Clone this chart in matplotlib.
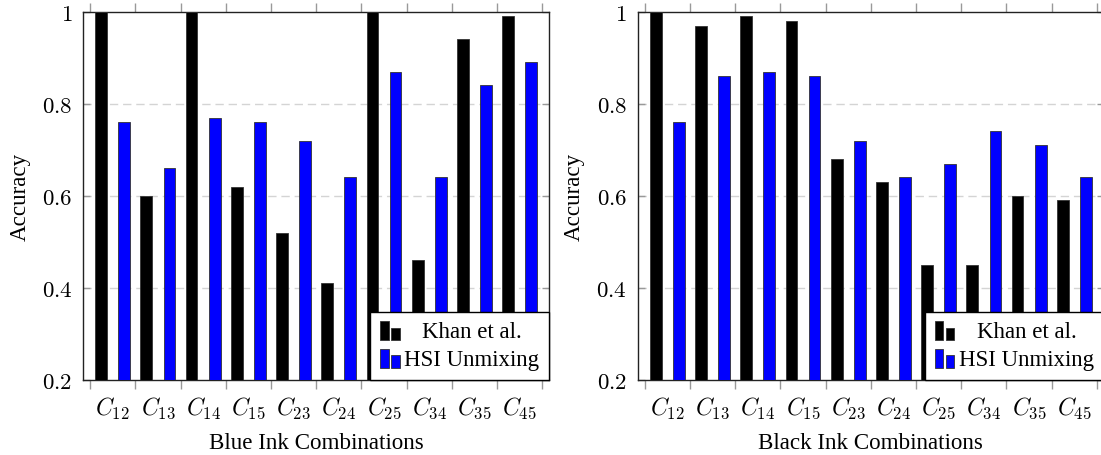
import numpy as np
import matplotlib
matplotlib.use("Agg")
import matplotlib.pyplot as plt
from matplotlib.legend_handler import HandlerBase
from matplotlib.patches import Rectangle

plt.rcParams['font.family'] = ['Liberation Serif', 'DejaVu Serif']
plt.rcParams['mathtext.fontset'] = 'cm'

# data
combos = ['12', '13', '14', '15', '23', '24', '25', '34', '35', '45']
blue_khan = [1.00, 0.60, 1.00, 0.62, 0.52, 0.41, 1.00, 0.46, 0.94, 0.99]
blue_hsi = [0.76, 0.66, 0.77, 0.76, 0.72, 0.64, 0.87, 0.64, 0.84, 0.89]
black_khan = [1.00, 0.97, 0.99, 0.98, 0.68, 0.63, 0.45, 0.45, 0.60, 0.59]
black_hsi = [0.76, 0.86, 0.87, 0.86, 0.72, 0.64, 0.67, 0.74, 0.71, 0.64]
yticks = [0.2, 0.4, 0.6, 0.8, 1.0]
series_names = ['Khan et al.', 'HSI Unmixing']
series_colors = ['black', '#0000ff']


class TwoBarHandler(HandlerBase):
    # pgfplots-style legend image: two small bars of different height
    def create_artists(self, legend, orig_handle, xdescent, ydescent,
                       width, height, fontsize, trans):
        fc = orig_handle.patches[0].get_facecolor()
        w = width * 0.44
        x0, y0 = -xdescent, -ydescent - height * 0.2
        r1 = Rectangle((x0, y0), w, height * 1.2, facecolor=fc,
                       edgecolor='#333333', lw=0.6, transform=trans)
        r2 = Rectangle((x0 + width * 0.56, y0), w, height * 0.8, facecolor=fc,
                       edgecolor='#333333', lw=0.6, transform=trans)
        return [r1, r2]


def draw_panel(ax, khan, hsi, xlabel):
    x = np.arange(len(combos))
    b1 = ax.bar(x - 0.255, khan, 0.26, color=series_colors[0],
                edgecolor='#333333', linewidth=0.6, label=series_names[0], zorder=3)
    b2 = ax.bar(x + 0.255, hsi, 0.26, color=series_colors[1],
                edgecolor='#333333', linewidth=0.6, label=series_names[1], zorder=3)
    ax.set_xlim(-0.65, len(combos) - 0.35)
    ax.set_ylim(0.2, 1.0)

    ax.set_xticks(x)
    ax.set_xticklabels([r'$C_{%s}$' % c for c in combos], fontsize=17)
    ax.set_xticks(np.arange(len(combos) + 1) - 0.5, minor=True)
    ax.tick_params(axis='x', which='major', length=0, pad=11)
    ax.tick_params(axis='x', which='minor', length=6.5, direction='out',
                   color='#999999', top=True, bottom=True, width=1)

    ax.set_yticks(yticks)
    ax.set_yticklabels([r'$1$' if v == 1.0 else r'$%.1f$' % v for v in yticks],
                       fontsize=16.5)
    ax.tick_params(axis='y', direction='in', length=5, color='#999999',
                   left=True, right=True, pad=8, width=1)

    for v in yticks[1:-1]:
        ax.axhline(v, color='#d4d4d4', lw=1, ls=(0, (6, 3.5)), zorder=1)

    for s in ax.spines.values():
        s.set_linewidth(1)
        s.set_color('#222222')

    ax.set_xlabel(xlabel, fontsize=16.6, labelpad=8)
    ax.set_ylabel('Accuracy', fontsize=16.6, labelpad=8)

    leg = ax.legend(handles=[b1, b2], loc='lower right', fontsize=16.5,
                    frameon=True, fancybox=False, edgecolor='black',
                    framealpha=1, borderaxespad=0, borderpad=0.42,
                    handlelength=0.87, handleheight=0.7, handletextpad=0.2,
                    labelspacing=0.3,
                    handler_map={type(b1): TwoBarHandler()})
    leg.get_frame().set_linewidth(1)
    leg.set_zorder(5)
    return leg


fig = plt.figure(figsize=(11.01, 4.56), dpi=100)
ax1 = fig.add_axes([83.3 / 1101, 0.1651, 465.7 / 1101, 0.807])
ax2 = fig.add_axes([638 / 1101, 0.1651, 465.7 / 1101, 0.807])

legs = [draw_panel(ax1, blue_khan, blue_hsi, 'Blue Ink Combinations'),
        draw_panel(ax2, black_khan, black_hsi, 'Black Ink Combinations')]

# centre the shorter legend entry in the text column, as in the original
fig.canvas.draw()
r = fig.canvas.get_renderer()
for leg in legs:
    t1, t2 = leg.get_texts()
    w1 = t1.get_window_extent(r).width
    w2 = t2.get_window_extent(r).width
    t1.set_x((w2 - w1) / 2)

fig.savefig('out.png', dpi=100)
